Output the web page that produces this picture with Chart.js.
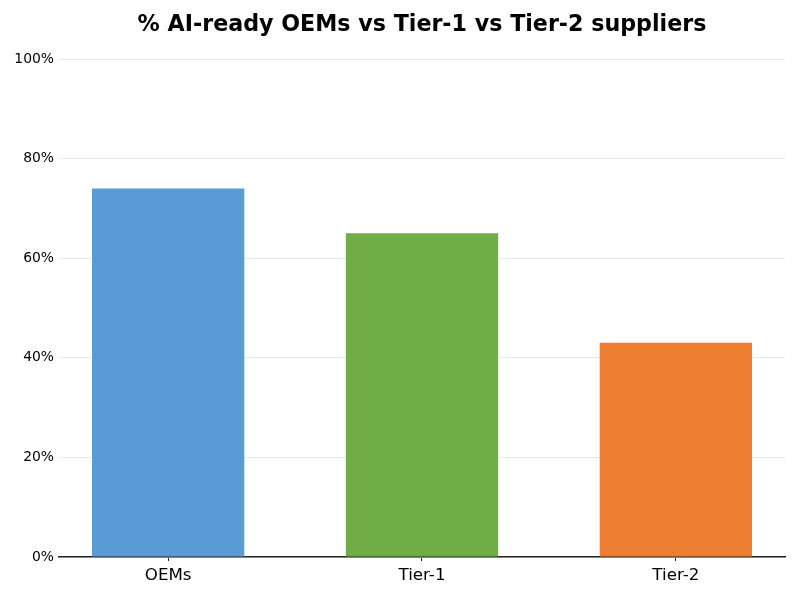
<!DOCTYPE html>
<html>
<head>
<meta charset="utf-8">
<script src="https://cdn.jsdelivr.net/npm/chart.js@4"></script>
<style>
  html, body { margin: 0; padding: 0; background: #fff; }
</style>
</head>
<body>
<canvas id="myChart" width="800" height="600"></canvas>
<script>
let titulo = '% AI-ready OEMs vs Tier-1 vs Tier-2 suppliers';
let categorias = ['OEMs', 'Tier-1', 'Tier-2'];
let porcentajes = [74, 65, 43];
let colores = ['#5B9BD5', '#70AD47', '#ED7D31'];
let yTicks = [0, 20, 40, 60, 80, 100];

let puntos = porcentajes.map((v, i) => ({ x: i, y: v }));

// title centred over the plot area, not the whole canvas
let tituloPlugin = {
    id: 'tituloPlugin',
    afterDraw: (chart) => {
        let c = chart.ctx;
        let area = chart.chartArea;
        c.save();
        c.fillStyle = '#000';
        c.font = 'bold 22.2px "DejaVu Sans"';
        c.textAlign = 'center';
        c.textBaseline = 'alphabetic';
        c.fillText(titulo, (area.left + area.right) / 2, 31);
        c.restore();
    }
};

let ctx = document.getElementById('myChart').getContext('2d');

let chart = new Chart(ctx, {
    type: 'bar',
    data: {
        datasets: [{
            data: puntos,
            backgroundColor: colores,
            borderWidth: 0,
            barPercentage: 0.6,
            categoryPercentage: 1
        }]
    },
    plugins: [tituloPlugin],
    options: {
        responsive: false,
        animation: false,
        devicePixelRatio: 1,
        layout: { padding: { left: 0, right: 15, top: 59, bottom: 0 } },
        plugins: {
            legend: { display: false },
            tooltip: { enabled: false },
            title: { display: false }
        },
        scales: {
            x: {
                type: 'linear',
                min: -0.43,
                max: 2.43,
                offset: false,
                afterBuildTicks: (scale) => {
                    scale.ticks = categorias.map((c, i) => ({ value: i }));
                },
                afterFit: (scale) => { scale.height = 43; },
                ticks: {
                    callback: (v) => categorias[v],
                    color: '#000',
                    padding: 5,
                    maxRotation: 0,
                    font: { family: 'DejaVu Sans', size: 16.7 }
                },
                grid: {
                    offset: false,
                    drawOnChartArea: false,
                    drawTicks: true,
                    tickLength: 4,
                    color: '#222'
                },
                border: { display: true, color: '#222', width: 1.5 }
            },
            y: {
                min: 0,
                max: 100,
                afterBuildTicks: (scale) => {
                    scale.ticks = yTicks.map(v => ({ value: v }));
                },
                afterFit: (scale) => { scale.width = 59; },
                ticks: {
                    callback: (v) => v + '%',
                    color: '#000',
                    padding: 5,
                    font: { family: 'DejaVu Sans', size: 13.9 }
                },
                grid: {
                    color: '#e8e8e8',
                    lineWidth: 1,
                    drawTicks: false
                },
                border: { display: false }
            }
        }
    }
});
</script>
</body>
</html>
